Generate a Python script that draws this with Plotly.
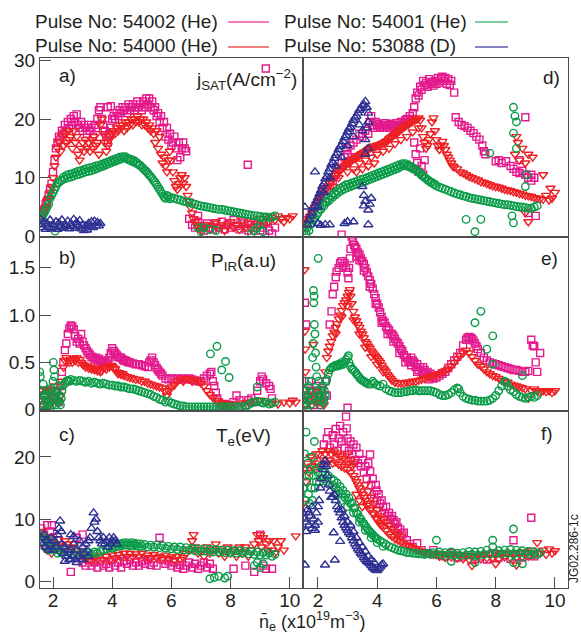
import plotly.graph_objects as go

# ---------------- series definitions ----------------
NAMES = ["Pulse No: 54002 (He)", "Pulse No: 54001 (He)", "Pulse No: 54000 (He)", "Pulse No: 53088 (D)"]
MAG = '#E4198C'; RED = '#EE2024'; GRN = '#0A9B48'; NAV = '#2E3192'

# ---------------- panel a: jSAT (left) ----------------
A_MAG = [(1.6,3.5),(1.65,4),(1.7,4.5),(1.75,5.5),(1.8,6),(1.85,7),(1.9,8),(1.95,9),(2.0,11),(2.05,13),(2.1,15),(2.15,16),(2.2,17),(2.25,16.5),(2.3,18),(2.35,17.5),(2.4,19),(2.45,18),(2.5,19.5),(2.55,18.5),(2.6,20),(2.65,19),(2.7,20.5),(2.75,19.5),(2.8,20.8),(2.85,19),(2.9,18.5),(2.95,19.5),(3.0,18),(3.05,19),(3.1,18.5),(3.15,17.5),(3.2,19),(3.25,18),(3.3,18.5),(3.35,17),(3.4,19),(3.45,18.5),(3.5,20),(3.55,21.5),(3.6,22),(3.65,20),(3.7,19),(3.75,18),(3.8,17),(3.85,16),(3.85,22),(3.9,17.5),(3.95,18.5),(3.95,22.2),(4.0,20),(4.05,20.5),(4.1,20),(4.15,21),(4.2,20.5),(4.25,21.5),(4.3,21),(4.35,22),(4.4,21.5),(4.45,22),(4.5,21),(4.55,22.5),(4.6,21.5),(4.65,22),(4.7,22.5),(4.75,21.5),(4.8,22),(4.85,23),(4.9,22),(4.95,22.5),(5.0,21.5),(5.05,23),(5.1,22),(5.15,23.5),(5.2,22.5),(5.25,23.5),(5.3,22),(5.35,23),(5.4,21.5),(5.45,22),(5.5,20.5),(5.55,21),(5.6,19.5),(5.65,20.5),(5.7,18.5),(5.75,19.5),(5.8,17),(5.85,18.5),(5.9,16.5),(5.95,17.5),(6.0,15.5),(6.05,16),(6.1,17),(6.15,15),(6.2,13),(6.25,16),(6.3,13.5),(6.35,15),(6.4,16),(6.45,15),(6.5,14.5),(6.6,3),(6.7,2),(6.8,1.5),(6.9,2.5),(6.9,3.5),(7.0,1.5),(7.1,1.8),(7.1,1.0),(7.2,2.2),(7.3,1.5),(7.4,1.2),(7.5,2),(7.6,1.5),(7.7,2.5),(7.8,1.2),(7.9,2),(8.0,1.5),(8.1,2.8),(8.2,1.8),(8.3,1.2),(8.4,2.2),(8.5,1.5),(8.58,12.2),(8.6,1.0),(8.7,2.5),(8.8,1.5),(8.9,2.0),(9.0,1.0),(9.1,1.5),(9.19,28.6),(9.2,2.5),(9.3,1.0),(9.4,0.5),(9.5,1.5)]
A_RED = [(1.6,3.5),(1.65,4),(1.7,4.5),(1.75,5),(1.8,6),(1.85,6.5),(1.9,7.5),(1.95,8.5),(2.0,10),(2.05,12),(2.1,13.5),(2.15,15),(2.2,16),(2.25,14.5),(2.3,17),(2.35,15.5),(2.4,17.5),(2.45,16),(2.5,18),(2.55,16.5),(2.6,17),(2.65,15),(2.7,18),(2.75,16),(2.8,17),(2.85,14),(2.9,13),(2.95,15),(3.0,16),(3.05,14.5),(3.1,16.5),(3.15,15),(3.2,16),(3.25,14.5),(3.3,16.5),(3.35,15),(3.4,17),(3.45,15.5),(3.5,16),(3.55,14),(3.6,19),(3.65,20),(3.7,17.5),(3.75,16),(3.8,14.5),(3.85,15.5),(3.9,16.5),(3.95,17),(4.0,17.5),(4.05,18),(4.1,17.5),(4.15,18.5),(4.2,18),(4.25,19),(4.3,18.5),(4.35,19),(4.4,18),(4.45,19.5),(4.5,18.5),(4.55,19.5),(4.6,19),(4.65,20),(4.7,19),(4.75,20),(4.8,19.5),(4.85,20.5),(4.9,19.5),(4.95,20),(5.0,19),(5.05,20),(5.1,19),(5.15,19.5),(5.2,18.5),(5.25,19),(5.3,18),(5.35,18.5),(5.4,17.5),(5.45,16),(5.5,18),(5.55,15),(5.6,17),(5.65,14),(5.7,12.5),(5.75,13.5),(5.8,12),(5.85,11),(5.9,13),(5.95,14.5),(6.0,13),(6.05,11),(6.1,9.5),(6.15,8.5),(6.2,8),(6.25,9),(6.3,10),(6.35,10.5),(6.4,9),(6.45,10),(6.5,8.5),(6.55,7),(6.6,6),(6.65,5),(6.7,4),(6.75,3),(6.8,2.5),(6.85,2),(6.9,1.5),(7.0,1),(7.1,1.5),(7.2,2),(7.3,1.2),(7.4,1.8),(7.5,2.5),(7.6,1.5),(7.7,2),(7.8,1),(7.9,1.8),(8.0,2.5),(8.1,1.5),(8.2,2),(8.3,1.2),(8.4,2.8),(8.5,1.5),(8.6,2.2),(8.7,1.2),(8.8,2.5),(8.9,1.8),(9.0,3),(9.1,2),(9.2,3.5),(9.3,2.5),(9.4,3.2),(9.5,2.8),(9.6,3.5),(9.7,3),(9.8,2.5),(9.9,3.2),(10.0,3),(10.1,3.5)]
A_GRN = [(1.55,3),(1.6,3.2),(1.65,3.5),(1.7,4),(1.75,4.5),(1.8,5),(1.85,5.5),(1.9,6.5),(1.95,7),(2.0,7.5),(2.05,8),(2.07,0.9),(2.1,8.5),(2.15,9),(2.2,9.2),(2.25,9.5),(2.3,9.6),(2.35,10.1),(2.4,9.8),(2.45,10.4),(2.5,10),(2.55,10.6),(2.6,10.1),(2.65,10.7),(2.7,10.3),(2.75,10.9),(2.8,10.5),(2.85,11.1),(2.9,10.6),(2.95,11.2),(3.0,10.8),(3.05,11.4),(3.1,11),(3.15,11.6),(3.2,11.1),(3.25,11.7),(3.3,11.2),(3.35,11.8),(3.4,11.4),(3.45,12),(3.5,11.6),(3.55,12.1),(3.6,11.8),(3.65,12.3),(3.7,12),(3.75,12.5),(3.8,12.2),(3.85,12.7),(3.9,12.4),(3.95,12.9),(4.0,12.6),(4.05,13.1),(4.1,12.8),(4.15,13.3),(4.2,13),(4.25,13.5),(4.3,13.2),(4.35,13.6),(4.4,13.4),(4.45,13.6),(4.5,13.2),(4.55,13.3),(4.6,12.9),(4.65,13.1),(4.7,12.7),(4.75,12.9),(4.8,12.5),(4.85,12.5),(4.9,12.2),(4.95,12.1),(5.0,11.8),(5.05,11.6),(5.1,11.3),(5.15,11.1),(5.2,10.8),(5.25,10.5),(5.3,10.2),(5.35,9.9),(5.4,9.5),(5.45,9.2),(5.5,8.8),(5.55,8.4),(5.6,8),(5.65,7.6),(5.7,7.2),(5.75,6.8),(5.8,6.5),(5.85,7.0),(5.9,6.8),(5.95,6.4),(6.0,6.6),(6.1,6.5),(6.2,6.3),(6.3,6.2),(6.4,6.0),(6.5,5.9),(6.6,5.8),(6.7,5.6),(6.8,5.5),(6.9,5.3),(6.9,1.5),(7.0,5.2),(7.0,0.8),(7.1,5.1),(7.1,1.5),(7.2,5.0),(7.3,4.9),(7.3,1.2),(7.4,4.8),(7.5,4.7),(7.5,1.0),(7.6,4.6),(7.7,4.6),(7.8,4.5),(7.9,4.4),(8.0,4.3),(8.1,4.2),(8.2,4.1),(8.3,4.0),(8.4,3.9),(8.5,3.8),(8.6,3.7),(8.7,3.6),(8.7,0.5),(8.8,3.5),(8.8,1.0),(8.9,3.5),(8.9,1.5),(9.0,3.4),(9.0,2.0),(9.1,3.3),(9.1,0.8),(9.2,3.3),(9.3,3.2),(9.4,3.3),(9.5,3.5)]
A_NAV = [(1.56,2.9),(1.6,2.0),(1.65,1.5),(1.7,2.5),(1.75,1.2),(1.8,2.2),(1.85,1.5),(1.9,2.8),(1.95,1.3),(2.0,2.0),(2.05,1.5),(2.1,2.5),(2.15,1.2),(2.2,2.3),(2.25,1.6),(2.3,2.8),(2.35,1.4),(2.4,2.0),(2.45,1.7),(2.5,2.6),(2.55,1.3),(2.6,2.2),(2.65,1.8),(2.7,2.9),(2.75,1.4),(2.8,2.4),(2.85,1.7),(2.9,2.7),(2.95,1.3),(3.0,2.0),(3.05,1.0),(3.1,1.8),(3.15,1.1),(3.2,2.2),(3.25,1.6),(3.3,2.5),(3.35,1.5),(3.4,2.6),(3.45,1.8),(3.5,2.4),(3.55,1.8),(3.6,2.2)]

# ---------------- panel d: jSAT (right) ----------------
D_MAG = [(1.55,1.8),(1.6,2.2),(1.7,3.0),(1.8,3.8),(1.9,4.8),(2.0,5.5),(2.1,6.5),(2.2,7.2),(2.3,8.0),(2.4,8.8),(2.5,9.5),(2.6,10.5),(2.7,11.5),(2.8,12.5),(2.8,0.3),(2.9,13.5),(2.95,15.0),(3.0,14.0),(3.0,12.5),(3.1,15.5),(3.15,13.5),(3.2,16.0),(3.3,16.5),(3.4,17.5),(3.5,17.0),(3.6,18.0),(3.7,17.5),(3.75,19.5),(3.8,20.5),(3.85,19.0),(3.9,18.5),(3.95,19.5),(4.0,18.8),(4.05,19.2),(4.1,18.5),(4.15,19.0),(4.2,18.6),(4.25,19.3),(4.3,18.7),(4.35,19.0),(4.4,18.5),(4.45,19.2),(4.5,18.8),(4.55,19.0),(4.6,18.5),(4.65,19.3),(4.7,18.7),(4.75,19.0),(4.8,19.5),(4.85,18.8),(4.9,19.3),(4.95,19.8),(5.0,20.0),(5.05,19.5),(5.1,20.5),(5.15,20.0),(5.2,21.0),(5.25,22.0),(5.25,16.0),(5.3,23.5),(5.3,14.0),(5.3,11.5),(5.35,24.5),(5.35,12.5),(5.4,24.0),(5.4,11.0),(5.45,25.5),(5.45,15.0),(5.5,25.0),(5.5,12.0),(5.55,26.5),(5.55,10.5),(5.6,25.8),(5.6,13.0),(5.65,26.2),(5.7,25.5),(5.75,26.8),(5.8,26.0),(5.85,26.3),(5.9,25.7),(5.95,26.5),(6.0,26.0),(6.05,27.0),(6.1,26.2),(6.15,26.8),(6.2,27.2),(6.25,26.5),(6.3,27.0),(6.35,26.0),(6.4,26.8),(6.45,25.8),(6.5,26.5),(6.6,24.5),(6.65,20.3),(6.75,19.5),(6.85,19.0),(6.95,18.8),(7.05,18.5),(7.15,18.0),(7.25,17.6),(7.35,17.0),(7.45,16.5),(7.55,15.5),(7.6,14.5),(7.65,14.0),(8.0,12.8),(8.1,13.0),(8.2,12.5),(8.35,12.8),(8.5,12.0),(8.6,11.5),(8.7,11.0),(8.8,10.8),(8.8,13.0),(8.9,11.2),(9.0,10.5),(9.0,20.3),(9.1,10.0),(9.1,4.0),(9.2,10.5),(9.2,9.5),(9.3,10.0),(9.35,3.5)]
D_RED = [(1.55,1.5),(1.6,2.0),(1.65,2.5),(1.7,3.0),(1.75,3.5),(1.8,4.0),(1.85,4.6),(1.9,5.0),(1.95,5.5),(2.0,6.0),(2.05,6.3),(2.1,6.8),(2.15,7.2),(2.2,7.5),(2.25,7.9),(2.3,8.2),(2.35,8.6),(2.4,9.0),(2.45,9.4),(2.5,9.8),(2.5,8.5),(2.55,10.0),(2.6,10.4),(2.65,10.7),(2.7,11.0),(2.7,10.0),(2.75,11.2),(2.8,11.5),(2.85,11.8),(2.9,12.0),(2.95,12.2),(3.0,12.5),(3.0,11.0),(3.05,12.6),(3.1,12.8),(3.15,13.0),(3.2,13.2),(3.2,11.5),(3.25,13.3),(3.3,13.5),(3.3,11.0),(3.35,13.6),(3.4,13.8),(3.4,12.5),(3.45,14.0),(3.5,14.1),(3.5,11.5),(3.55,14.3),(3.6,14.4),(3.6,13.0),(3.65,14.6),(3.7,14.8),(3.7,12.0),(3.75,15.0),(3.8,15.2),(3.8,13.5),(3.85,15.0),(3.9,15.4),(3.9,12.5),(3.95,15.3),(4.0,15.5),(4.0,14.0),(4.05,15.6),(4.1,15.5),(4.15,15.8),(4.2,15.9),(4.2,14.5),(4.25,16.0),(4.3,16.2),(4.35,16.3),(4.4,16.6),(4.4,15.0),(4.45,16.8),(4.5,17.0),(4.55,17.2),(4.6,17.4),(4.6,15.8),(4.65,17.5),(4.7,17.8),(4.75,18.0),(4.8,18.2),(4.8,16.5),(4.85,18.4),(4.9,18.6),(4.95,18.8),(5.0,19.0),(5.0,17.0),(5.05,19.1),(5.1,19.3),(5.15,19.5),(5.2,19.6),(5.2,17.8),(5.25,19.8),(5.3,19.9),(5.35,20.0),(5.4,20.2),(5.4,18.5),(5.45,19.8),(5.5,18.5),(5.55,17.0),(5.6,16.0),(5.65,15.0),(5.7,15.5),(5.75,16.5),(5.8,17.5),(5.85,19.5),(5.9,20.2),(5.95,18.0),(6.0,16.5),(6.05,15.5),(6.1,14.8),(6.15,15.5),(6.2,16.2),(6.25,15.5),(6.3,14.8),(6.35,14.0),(6.4,13.5),(6.45,13.0),(6.5,12.5),(6.55,12.0),(6.6,11.8),(6.7,11.5),(6.8,11.0),(6.9,10.8),(7.0,10.5),(7.1,10.2),(7.2,10.0),(7.3,9.8),(7.4,9.6),(7.5,9.3),(7.6,9.2),(7.7,9.0),(7.8,8.8),(7.9,8.6),(8.0,8.5),(8.1,8.4),(8.2,8.2),(8.3,8.0),(8.4,7.9),(8.5,7.8),(8.6,7.6),(8.65,14.0),(8.7,7.5),(8.7,17.0),(8.75,16.0),(8.8,7.3),(8.8,13.0),(8.9,7.2),(8.9,15.0),(9.0,7.0),(9.0,12.5),(9.0,4.0),(9.1,6.9),(9.1,14.0),(9.1,2.5),(9.2,6.8),(9.25,13.5),(9.3,6.6),(9.4,6.5),(9.5,6.4),(9.6,6.3),(9.6,10.5),(9.7,7.0),(9.8,6.2),(9.85,8.2),(9.9,6.5),(10.0,7.5)]
D_GRN = [(1.55,1.0),(1.6,0.5),(1.65,1.5),(1.7,1.0),(1.75,2.0),(1.8,2.2),(1.85,2.8),(1.9,3.2),(1.95,3.6),(2.0,4.0),(2.05,4.6),(2.1,4.6),(2.15,5.3),(2.2,5.2),(2.25,5.9),(2.3,5.8),(2.35,6.5),(2.4,6.2),(2.45,7.0),(2.5,6.7),(2.55,7.4),(2.6,7.1),(2.65,7.8),(2.7,7.5),(2.75,8.2),(2.8,7.8),(2.85,8.5),(2.9,8.1),(2.95,8.8),(3.0,8.3),(3.05,8.9),(3.1,8.5),(3.15,9.1),(3.2,8.7),(3.25,9.3),(3.3,8.9),(3.35,9.5),(3.4,9.1),(3.45,9.7),(3.5,9.2),(3.55,9.8),(3.6,9.4),(3.65,10.0),(3.7,9.6),(3.75,10.2),(3.8,9.8),(3.85,10.4),(3.9,10.0),(3.95,10.6),(4.0,10.2),(4.05,10.8),(4.1,10.4),(4.15,11.0),(4.2,10.6),(4.25,11.2),(4.3,10.8),(4.35,11.4),(4.4,11.0),(4.45,11.6),(4.5,11.2),(4.55,11.8),(4.6,11.4),(4.65,12.0),(4.7,11.6),(4.75,12.2),(4.8,11.9),(4.85,12.4),(4.9,12.1),(4.95,12.4),(5.0,12.0),(5.05,12.2),(5.1,11.8),(5.15,11.9),(5.2,11.5),(5.25,11.6),(5.3,11.3),(5.35,11.2),(5.4,10.9),(5.45,10.8),(5.5,10.4),(5.55,10.3),(5.6,10.0),(5.65,9.9),(5.7,9.6),(5.75,9.5),(5.8,9.2),(5.85,9.2),(5.9,8.9),(5.95,8.9),(6.0,8.6),(6.1,8.4),(6.2,8.2),(6.3,8.0),(6.4,7.8),(6.5,7.6),(6.6,7.4),(6.7,7.2),(6.8,7.1),(6.9,6.9),(7.0,6.8),(7.0,2.9),(7.1,6.6),(7.2,6.5),(7.3,6.4),(7.3,0.8),(7.4,6.3),(7.5,6.2),(7.5,2.9),(7.6,6.1),(7.7,6.0),(7.8,5.9),(7.8,14.2),(7.9,5.8),(8.0,5.7),(8.1,5.6),(8.2,5.5),(8.3,5.4),(8.4,5.4),(8.5,5.3),(8.55,3.5),(8.6,5.2),(8.6,22.0),(8.6,17.6),(8.6,2.3),(8.65,20.5),(8.7,5.1),(8.7,19.5),(8.7,15.0),(8.8,5.0),(8.9,5.0),(9.0,4.9),(9.0,8.5),(9.05,10.5),(9.1,4.8),(9.2,4.8),(9.3,5.0),(9.4,5.2)]
D_NAV = [(1.56,5.0),(1.65,2.0),(1.7,2.8),(1.75,3.5),(1.8,4.0),(1.85,4.8),(1.9,5.2),(1.9,11.0),(1.95,6.0),(2.0,6.5),(2.0,5.0),(2.0,2.2),(2.05,7.2),(2.1,7.8),(2.1,1.9),(2.15,8.5),(2.2,9.0),(2.2,7.5),(2.25,9.8),(2.25,2.0),(2.3,10.2),(2.35,11.0),(2.4,11.5),(2.4,10.0),(2.4,2.0),(2.45,12.2),(2.5,12.6),(2.55,13.3),(2.6,13.8),(2.6,12.0),(2.65,14.2),(2.7,14.8),(2.75,15.3),(2.8,15.6),(2.8,13.5),(2.85,16.2),(2.9,16.8),(2.9,2.2),(2.95,17.2),(3.0,17.8),(3.0,15.5),(3.0,2.5),(3.05,18.3),(3.1,18.6),(3.15,19.2),(3.2,19.8),(3.2,17.0),(3.2,2.5),(3.25,20.2),(3.3,20.5),(3.35,21.0),(3.4,21.5),(3.4,19.0),(3.45,21.8),(3.5,22.3),(3.5,18.0),(3.5,8.5),(3.55,22.5),(3.55,7.0),(3.55,5.2),(3.6,23.0),(3.6,16.5),(3.6,14.0),(3.6,6.0),(3.65,22.0),(3.65,18.5),(3.7,21.0),(3.7,19.5),(3.7,15.0),(3.7,4.5),(3.7,2.0),(3.75,5.5),(3.8,6.5)]

# ---------------- panel b: P_IR (left) ----------------
B_MAG = [(1.6,0.1),(1.7,0.15),(1.8,0.05),(1.9,0.2),(2.0,0.12),(2.1,0.18),(2.2,0.08),(2.25,0.25),(2.3,0.4),(2.35,0.5),(2.4,0.63),(2.45,0.7),(2.5,0.8),(2.55,0.86),(2.6,0.89),(2.65,0.88),(2.7,0.85),(2.75,0.78),(2.8,0.72),(2.85,0.75),(2.9,0.7),(2.95,0.8),(3.0,0.72),(3.05,0.68),(3.1,0.65),(3.15,0.62),(3.2,0.6),(3.25,0.58),(3.3,0.56),(3.35,0.55),(3.4,0.53),(3.45,0.55),(3.5,0.52),(3.55,0.54),(3.6,0.52),(3.65,0.5),(3.7,0.5),(3.75,0.51),(3.8,0.5),(3.85,0.52),(3.9,0.55),(3.95,0.6),(4.0,0.65),(4.05,0.62),(4.1,0.6),(4.15,0.58),(4.2,0.56),(4.25,0.55),(4.3,0.55),(4.35,0.53),(4.4,0.52),(4.45,0.52),(4.5,0.51),(4.55,0.5),(4.6,0.5),(4.7,0.49),(4.8,0.48),(4.9,0.48),(5.0,0.47),(5.1,0.46),(5.2,0.45),(5.25,0.5),(5.3,0.52),(5.35,0.55),(5.4,0.5),(5.45,0.47),(5.5,0.44),(5.55,0.42),(5.6,0.4),(5.65,0.38),(5.7,0.36),(5.8,0.33),(5.9,0.32),(6.0,0.33),(6.1,0.32),(6.2,0.33),(6.3,0.32),(6.4,0.33),(6.5,0.32),(6.6,0.33),(6.7,0.32),(6.8,0.31),(6.9,0.3),(7.0,0.3),(7.1,0.33),(7.2,0.36),(7.3,0.38),(7.35,0.4),(7.4,0.3),(7.45,0.25),(7.5,0.18),(7.55,0.12),(7.6,0.08),(7.7,0.05),(7.8,0.06),(7.9,0.04),(8.0,0.05),(8.1,0.08),(8.2,0.15),(8.3,0.1),(8.5,0.05),(8.6,0.1),(8.7,0.12),(8.8,0.08),(8.9,0.2),(9.0,0.3),(9.05,0.35),(9.1,0.32),(9.2,0.28),(9.3,0.25),(9.35,0.22),(9.4,0.12)]
B_RED = [(1.55,0.1),(1.6,0.2),(1.65,0.05),(1.7,0.15),(1.75,0.22),(1.8,0.1),(1.85,0.18),(1.9,0.05),(1.95,0.2),(2.0,0.12),(2.05,0.25),(2.1,0.1),(2.15,0.2),(2.2,0.08),(2.25,0.15),(2.3,0.3),(2.35,0.45),(2.4,0.52),(2.45,0.55),(2.5,0.52),(2.55,0.5),(2.6,0.53),(2.65,0.5),(2.7,0.54),(2.75,0.52),(2.8,0.55),(2.85,0.5),(2.9,0.53),(2.95,0.5),(3.0,0.48),(3.05,0.47),(3.1,0.45),(3.15,0.46),(3.2,0.44),(3.25,0.45),(3.3,0.43),(3.35,0.44),(3.4,0.42),(3.45,0.43),(3.5,0.41),(3.55,0.42),(3.6,0.4),(3.65,0.41),(3.7,0.44),(3.75,0.45),(3.8,0.43),(3.85,0.46),(3.9,0.45),(3.95,0.47),(4.0,0.46),(4.05,0.44),(4.1,0.43),(4.15,0.4),(4.2,0.38),(4.25,0.39),(4.3,0.37),(4.35,0.38),(4.4,0.36),(4.5,0.35),(4.6,0.34),(4.7,0.33),(4.8,0.32),(4.9,0.32),(5.0,0.3),(5.1,0.3),(5.2,0.28),(5.3,0.27),(5.4,0.26),(5.5,0.25),(5.6,0.24),(5.7,0.23),(5.8,0.2),(5.85,0.15),(5.9,0.2),(5.95,0.22),(6.0,0.24),(6.1,0.26),(6.2,0.3),(6.3,0.32),(6.4,0.3),(6.5,0.33),(6.6,0.32),(6.7,0.3),(6.8,0.32),(6.9,0.3),(7.0,0.28),(7.1,0.25),(7.2,0.2),(7.3,0.16),(7.4,0.13),(7.5,0.1),(7.6,0.08),(7.7,0.07),(7.8,0.06),(7.9,0.05),(8.0,0.06),(8.2,0.05),(8.4,0.07),(8.6,0.08),(8.8,0.09),(9.0,0.1),(9.2,0.08),(9.4,0.07),(9.6,0.06),(9.8,0.08),(10.0,0.07),(10.1,0.1),(10.2,0.08)]
B_GRN = [(1.55,0.4),(1.57,0.35),(1.6,0.1),(1.62,0.2),(1.65,0.05),(1.67,0.27),(1.7,0.15),(1.72,0.0),(1.75,0.1),(1.77,0.2),(1.8,0.05),(1.82,0.15),(1.85,0.08),(1.87,0.22),(1.9,0.02),(1.92,0.12),(1.95,0.18),(1.97,0.05),(2.0,0.3),(2.01,0.5),(2.03,0.42),(2.05,0.35),(2.07,0.15),(2.1,0.05),(2.12,0.2),(2.15,0.1),(2.17,0.25),(2.2,0.08),(2.22,0.15),(2.25,0.05),(2.28,0.12),(2.3,0.2),(2.35,0.26),(2.4,0.28),(2.45,0.3),(2.5,0.31),(2.55,0.3),(2.6,0.32),(2.7,0.31),(2.8,0.3),(2.9,0.31),(3.0,0.3),(3.1,0.29),(3.2,0.3),(3.3,0.28),(3.4,0.29),(3.5,0.28),(3.6,0.27),(3.7,0.28),(3.8,0.27),(3.9,0.26),(4.0,0.26),(4.1,0.25),(4.2,0.25),(4.3,0.24),(4.4,0.24),(4.5,0.23),(4.6,0.22),(4.7,0.22),(4.8,0.21),(4.9,0.2),(5.0,0.19),(5.1,0.18),(5.2,0.17),(5.3,0.16),(5.4,0.14),(5.5,0.13),(5.6,0.11),(5.7,0.1),(5.8,0.08),(5.9,0.09),(6.0,0.07),(6.1,0.06),(6.2,0.05),(6.3,0.04),(6.4,0.04),(6.5,0.03),(6.6,0.03),(6.7,0.03),(6.8,0.03),(6.9,0.03),(7.0,0.03),(7.1,0.03),(7.2,0.03),(7.3,0.03),(7.32,0.59),(7.4,0.03),(7.5,0.03),(7.54,0.67),(7.6,0.03),(7.7,0.03),(7.7,0.42),(7.8,0.03),(7.83,0.51),(7.9,0.03),(7.95,0.34),(8.0,0.03),(8.1,0.03),(8.2,0.03),(8.3,0.03),(8.4,0.03),(8.5,0.03),(8.6,0.05),(8.7,0.07),(8.8,0.08),(8.9,0.09),(8.9,0.24),(9.0,0.08),(9.1,0.07),(9.2,0.08),(9.3,0.06),(9.4,0.07),(9.5,0.08)]

# ---------------- panel e: P_IR (right) ----------------
E_MAG = [(1.55,0.2),(1.56,1.13),(1.6,0.9),(1.6,0.05),(1.65,0.15),(1.7,0.3),(1.75,0.1),(1.8,0.2),(1.85,0.05),(1.9,0.12),(1.95,0.25),(2.0,0.08),(2.05,0.15),(2.1,0.05),(2.15,0.2),(2.2,0.1),(2.25,0.3),(2.3,0.15),(2.4,0.9),(2.46,1.04),(2.5,1.22),(2.55,1.3),(2.6,1.4),(2.63,1.46),(2.7,1.5),(2.75,1.55),(2.8,1.57),(2.85,1.52),(2.9,1.55),(2.95,1.5),(3.0,1.45),(3.0,0.02),(3.03,1.39),(3.05,1.5),(3.08,1.6),(3.1,1.7),(3.14,1.83),(3.18,1.78),(3.22,1.74),(3.26,1.72),(3.3,1.7),(3.3,1.62),(3.35,1.66),(3.4,1.64),(3.4,1.58),(3.45,1.6),(3.5,1.57),(3.55,1.54),(3.55,1.47),(3.6,1.5),(3.65,1.45),(3.7,1.41),(3.75,1.37),(3.75,1.3),(3.8,1.33),(3.85,1.28),(3.9,1.22),(3.95,1.18),(3.95,1.12),(4.0,1.12),(4.05,1.08),(4.1,1.03),(4.15,0.98),(4.15,0.92),(4.2,0.94),(4.25,0.92),(4.3,0.88),(4.35,0.86),(4.35,0.8),(4.4,0.84),(4.45,0.8),(4.5,0.8),(4.55,0.78),(4.55,0.72),(4.6,0.75),(4.65,0.72),(4.7,0.7),(4.75,0.67),(4.75,0.6),(4.8,0.64),(4.85,0.62),(4.9,0.58),(4.95,0.55),(4.95,0.5),(5.0,0.55),(5.05,0.52),(5.1,0.5),(5.15,0.55),(5.15,0.47),(5.2,0.52),(5.25,0.5),(5.3,0.45),(5.35,0.48),(5.35,0.4),(5.4,0.42),(5.45,0.45),(5.5,0.4),(5.55,0.45),(5.55,0.38),(5.6,0.42),(5.65,0.38),(5.7,0.4),(5.75,0.36),(5.75,0.32),(5.8,0.38),(5.85,0.35),(5.9,0.33),(6.0,0.34),(6.1,0.36),(6.2,0.38),(6.3,0.4),(6.4,0.44),(6.5,0.48),(6.6,0.52),(6.7,0.56),(6.8,0.6),(6.9,0.68),(7.0,0.74),(7.05,0.76),(7.1,0.77),(7.15,0.76),(7.2,0.75),(7.25,0.73),(7.3,0.7),(7.35,0.67),(7.4,0.64),(7.5,0.6),(7.6,0.55),(7.7,0.52),(7.8,0.5),(7.9,0.49),(8.0,0.48),(8.1,0.47),(8.2,0.46),(8.3,0.45),(8.4,0.44),(8.5,0.43),(8.6,0.42),(8.7,0.42),(8.8,0.41),(8.9,0.4),(9.0,0.4),(9.1,0.41),(9.2,0.74),(9.25,0.68),(9.3,0.67),(9.35,0.5),(9.4,0.4),(9.5,0.6)]
E_RED = [(1.5,0.1),(1.55,1.48),(1.56,0.83),(1.57,0.64),(1.58,0.4),(1.6,0.05),(1.65,0.15),(1.7,0.1),(1.75,0.2),(1.8,0.05),(1.85,0.69),(1.9,0.12),(1.95,0.2),(2.0,0.08),(2.05,0.15),(2.1,0.1),(2.15,0.22),(2.2,0.05),(2.25,0.4),(2.3,0.55),(2.35,0.62),(2.4,0.67),(2.45,0.72),(2.5,0.78),(2.55,0.82),(2.6,0.87),(2.6,0.8),(2.65,0.91),(2.7,0.96),(2.75,1.0),(2.8,1.05),(2.8,0.98),(2.85,1.1),(2.9,1.13),(2.95,1.16),(3.0,1.2),(3.0,1.1),(3.05,1.24),(3.08,1.27),(3.1,1.2),(3.14,1.12),(3.2,1.04),(3.2,0.95),(3.25,0.98),(3.3,0.94),(3.35,0.9),(3.4,0.87),(3.4,0.8),(3.45,0.83),(3.5,0.8),(3.55,0.76),(3.6,0.72),(3.6,0.66),(3.65,0.7),(3.7,0.67),(3.75,0.65),(3.8,0.62),(3.8,0.56),(3.85,0.6),(3.9,0.58),(3.95,0.56),(4.0,0.54),(4.0,0.48),(4.05,0.52),(4.1,0.5),(4.15,0.47),(4.2,0.44),(4.2,0.4),(4.25,0.42),(4.3,0.4),(4.35,0.37),(4.4,0.35),(4.45,0.33),(4.5,0.31),(4.6,0.29),(4.7,0.28),(4.8,0.28),(4.9,0.28),(5.0,0.29),(5.1,0.29),(5.2,0.3),(5.3,0.3),(5.4,0.31),(5.5,0.32),(5.6,0.33),(5.7,0.34),(5.8,0.35),(5.9,0.36),(6.0,0.37),(6.1,0.38),(6.2,0.4),(6.3,0.41),(6.4,0.43),(6.5,0.46),(6.6,0.5),(6.7,0.54),(6.8,0.57),(6.9,0.6),(7.0,0.63),(7.1,0.6),(7.2,0.56),(7.3,0.52),(7.4,0.48),(7.5,0.46),(7.6,0.43),(7.7,0.4),(7.8,0.38),(7.9,0.36),(8.0,0.35),(8.1,0.33),(8.2,0.31),(8.3,0.3),(8.4,0.29),(8.5,0.27),(8.6,0.26),(8.7,0.25),(8.8,0.24),(8.9,0.23),(9.0,0.22),(9.1,0.12),(9.2,0.2),(9.3,0.22),(9.4,0.2),(9.5,0.18),(9.6,0.2),(9.7,0.19),(9.8,0.2),(9.9,0.18),(10.0,0.2)]
E_GRN = [(1.52,0.1),(1.55,0.3),(1.58,0.05),(1.6,0.2),(1.62,0.15),(1.65,0.0),(1.68,0.25),(1.7,0.1),(1.72,0.18),(1.75,0.05),(1.78,0.3),(1.8,0.12),(1.82,0.55),(1.84,0.7),(1.85,1.26),(1.86,1.13),(1.87,1.2),(1.88,0.9),(1.9,0.8),(1.92,0.6),(1.94,0.45),(1.96,0.35),(1.98,0.2),(2.0,0.1),(2.01,1.6),(2.02,0.3),(2.05,0.15),(2.08,0.05),(2.1,0.2),(2.12,0.1),(2.15,0.25),(2.18,0.12),(2.2,0.08),(2.22,0.2),(2.25,0.15),(2.28,0.3),(2.3,0.32),(2.35,0.38),(2.4,0.42),(2.45,0.44),(2.5,0.45),(2.55,0.46),(2.6,0.47),(2.65,0.46),(2.7,0.48),(2.75,0.47),(2.8,0.5),(2.85,0.48),(2.9,0.5),(2.95,0.53),(3.0,0.55),(3.03,0.57),(3.05,0.5),(3.1,0.46),(3.15,0.43),(3.2,0.42),(3.25,0.4),(3.3,0.38),(3.35,0.36),(3.4,0.34),(3.45,0.32),(3.5,0.31),(3.55,0.3),(3.6,0.29),(3.65,0.28),(3.7,0.27),(3.8,0.27),(3.85,0.3),(3.9,0.28),(4.0,0.26),(4.1,0.25),(4.2,0.27),(4.3,0.22),(4.4,0.2),(4.5,0.19),(4.6,0.18),(4.7,0.18),(4.8,0.18),(4.9,0.19),(5.0,0.19),(5.1,0.2),(5.2,0.2),(5.3,0.21),(5.4,0.2),(5.5,0.2),(5.6,0.2),(5.7,0.2),(5.8,0.2),(5.9,0.19),(6.0,0.18),(6.1,0.16),(6.2,0.15),(6.3,0.15),(6.4,0.16),(6.5,0.18),(6.6,0.21),(6.7,0.23),(6.75,0.22),(6.8,0.18),(6.9,0.14),(7.0,0.12),(7.1,0.11),(7.2,0.1),(7.3,0.1),(7.3,0.92),(7.4,0.09),(7.5,0.09),(7.5,1.04),(7.6,0.09),(7.7,0.09),(7.7,0.64),(7.8,0.1),(7.9,0.12),(7.9,0.78),(7.9,0.48),(8.0,0.15),(8.1,0.2),(8.2,0.25),(8.3,0.3),(8.35,0.29),(8.4,0.25),(8.5,0.21),(8.6,0.19),(8.7,0.16),(8.8,0.14),(8.9,0.13),(8.9,0.36),(9.0,0.12),(9.1,0.13),(9.2,0.14),(9.3,0.13),(9.4,0.15)]

# ---------------- panel c: Te (left) ----------------
C_MAG = [(1.6,8.5),(1.7,7.5),(1.8,9.0),(1.9,8.0),(1.96,9.0),(2.0,7.0),(2.2,6.5),(2.6,1.5),(2.8,7.0),(3.0,7.5),(3.0,3.0),(3.1,2.5),(3.2,3.5),(3.3,2.5),(3.4,3.0),(3.5,2.2),(3.6,3.2),(3.7,2.5),(3.8,2.8),(3.9,2.2),(4.0,3.5),(4.1,2.5),(4.2,3.0),(4.3,2.2),(4.4,3.2),(4.5,2.8),(4.6,3.5),(4.7,2.5),(4.8,3.0),(4.9,2.5),(5.0,3.2),(5.1,2.8),(5.2,3.5),(5.3,2.6),(5.4,3.0),(5.5,2.5),(5.6,7.0),(5.7,3.5),(5.8,2.8),(5.9,3.2),(6.0,2.5),(6.1,3.0),(6.2,2.2),(6.3,2.6),(6.4,2.0),(6.5,2.5),(6.6,3.0),(6.7,2.2),(6.8,2.8),(6.9,2.0),(7.0,2.5),(7.1,3.0),(7.2,2.2),(7.3,2.8),(7.4,2.0),(8.1,2.0),(8.5,2.5),(8.8,1.5),(9.0,7.5),(9.1,2.5),(9.2,2.0),(9.4,2.0)]
C_RED = [(1.6,8),(1.65,7),(1.7,5.5),(1.75,6.5),(1.8,5),(1.85,7),(1.9,6),(1.95,4.5),(2.0,6),(2.1,5.5),(2.2,6),(2.3,5),(2.4,6.5),(2.5,6),(2.6,5.5),(2.7,6),(2.8,5),(2.9,4.5),(3.0,4),(3.1,3.5),(3.2,4),(3.3,3.2),(3.4,3.8),(3.5,3.5),(3.6,4.2),(3.7,3.5),(3.8,4),(3.9,3.3),(4.0,4.2),(4.1,3.6),(4.2,4.3),(4.3,3.8),(4.4,4.5),(4.5,4.0),(4.6,4.5),(4.7,3.9),(4.8,4.4),(4.9,4.0),(5.0,4.5),(5.1,3.8),(5.2,4.2),(5.3,3.7),(5.4,4.3),(5.5,3.8),(5.6,4.0),(5.7,3.5),(5.8,4.2),(5.9,3.6),(6.0,3.9),(6.1,3.4),(6.2,4.0),(6.3,3.5),(6.4,3.8),(6.5,4.5),(6.6,5),(6.7,6.5),(6.75,7.5),(6.8,5.5),(6.9,4.5),(7.0,5),(7.1,4),(7.2,5.5),(7.3,4.5),(7.4,5),(7.5,6),(7.6,4.5),(7.7,5),(7.8,4),(7.9,5.5),(8.0,4.5),(8.1,5),(8.2,4),(8.3,5.5),(8.4,4.5),(8.5,5.5),(8.6,4),(8.7,5),(8.8,6),(8.9,7.5),(8.95,6.5),(9.0,7.5),(9.05,5.5),(9.1,7),(9.2,6),(9.25,5),(9.3,6.5),(9.4,5),(9.45,6.5),(9.5,4.5),(9.6,5.5),(9.7,6.5),(9.8,5),(10.2,7.3)]
C_GRN = [(1.6,7.5),(1.65,6.5),(1.7,7),(1.75,5.5),(1.8,6.5),(1.85,5),(1.9,6),(1.95,5.5),(2.0,6.5),(2.05,5),(2.1,5.5),(2.15,4.5),(2.2,5),(2.3,4.5),(2.4,5),(2.5,4.2),(2.6,4.8),(2.7,4.3),(2.8,4.6),(2.9,4.2),(3.0,4.5),(3.1,4.3),(3.2,4.6),(3.3,4.4),(3.4,4.7),(3.5,4.5),(3.6,4.8),(3.7,5.0),(3.8,5.2),(3.9,5.5),(4.0,5.3),(4.05,5.8),(4.1,5.5),(4.15,6.0),(4.2,5.6),(4.25,6.0),(4.3,5.7),(4.35,6.1),(4.4,5.8),(4.45,6.2),(4.5,5.8),(4.55,6.1),(4.6,5.7),(4.65,6.2),(4.7,5.8),(4.75,6.1),(4.8,5.7),(4.85,6.0),(4.9,5.6),(4.95,6.0),(5.0,5.6),(5.1,5.9),(5.2,5.5),(5.3,5.8),(5.4,5.5),(5.5,5.8),(5.6,5.4),(5.7,5.7),(5.8,5.3),(5.9,5.6),(6.0,5.2),(6.1,5.5),(6.2,5.1),(6.3,5.5),(6.4,5.0),(6.5,5.4),(6.6,5.0),(6.7,5.3),(6.8,4.9),(6.9,5.2),(7.0,4.8),(7.1,5.2),(7.2,4.8),(7.3,5.1),(7.3,0.4),(7.4,4.7),(7.45,0.6),(7.5,5.1),(7.6,4.7),(7.6,0.8),(7.7,5.0),(7.8,4.6),(7.8,0.5),(7.9,5.0),(7.9,0.8),(8.0,4.6),(8.1,4.9),(8.2,4.5),(8.3,4.9),(8.4,4.5),(8.5,4.8),(8.6,4.4),(8.7,4.8),(8.8,4.3),(8.8,2.5),(8.9,4.7),(8.9,3.0),(9.0,4.2),(9.0,2.2),(9.1,4.6),(9.1,2.8),(9.2,4.2),(9.3,4.5),(9.4,4.0),(9.5,4.3)]
C_NAV = [(1.6,7),(1.65,6),(1.7,7.5),(1.75,5.5),(1.8,6.5),(1.85,5),(1.9,6),(1.95,7),(2.0,5),(2.05,6.5),(2.1,5.5),(2.15,7.5),(2.2,8.5),(2.24,9.7),(2.28,8),(2.3,6),(2.35,4.5),(2.4,5.5),(2.4,3.2),(2.45,4),(2.5,5),(2.55,3.5),(2.6,5),(2.6,7.5),(2.6,3.5),(2.65,4),(2.7,6),(2.7,7.2),(2.75,3.5),(2.8,5),(2.8,3.0),(2.85,4),(2.9,6.5),(2.95,3.5),(3.0,5.5),(3.0,3.5),(3.05,4.5),(3.1,6),(3.15,5),(3.2,6.5),(3.2,4.0),(3.25,7),(3.3,8.5),(3.37,11),(3.4,9.5),(3.45,10),(3.5,8),(3.55,7),(3.6,6.5),(3.65,6),(3.7,7),(3.75,6),(3.8,6.5),(3.85,5.5),(3.9,7),(3.95,6),(4.0,6.5),(4.05,7),(4.1,6.5),(4.15,6)]

# ---------------- panel f: Te (right) ----------------
F_MAG = [(2.2,22),(2.3,23),(2.35,24),(2.4,21.5),(2.5,23.5),(2.55,22),(2.6,24.5),(2.65,21),(2.7,23),(2.75,25),(2.8,22.5),(2.85,24),(2.9,21.5),(2.95,26.5),(2.97,24.6),(3.0,23),(3.05,21),(3.1,22.5),(3.15,20.5),(3.2,22),(3.25,19.5),(3.3,21.5),(3.35,19),(3.4,20.5),(3.45,18.5),(3.5,19.5),(3.55,17.5),(3.6,18.5),(3.65,16.5),(3.7,19),(3.76,20.4),(3.76,17.7),(3.8,15.5),(3.85,16.5),(3.9,14),(3.95,15.5),(3.98,14.6),(4.0,13),(4.05,14),(4.1,12.5),(4.15,13),(4.2,11.9),(4.25,11),(4.3,12),(4.35,10.5),(4.4,11),(4.45,10),(4.5,10.5),(4.55,9.8),(4.6,9.2),(4.65,9.5),(4.7,8.6),(4.78,8.3),(4.85,7.5),(4.9,7.8),(5.0,6.6),(5.1,6.0),(5.2,5.5),(5.35,6.1),(5.5,5.0),(5.7,4.5),(5.9,5.0),(6.1,4.2),(6.3,4.0),(6.5,4.5),(6.7,3.8),(6.9,4.0),(7.1,4.2),(7.3,3.6),(7.5,4.0),(7.7,3.5),(7.9,4.5),(8.1,3.8),(8.3,4.2),(8.5,3.6),(8.6,6.6),(8.7,4.0),(8.9,3.8),(9.1,4.2),(9.2,10.2),(9.3,4.0)]
F_RED = [(1.5,12.5),(1.55,18),(1.6,16),(1.65,19),(1.7,17.5),(1.75,20),(1.8,18.5),(1.85,19.5),(1.9,18),(1.95,20.5),(2.0,19),(2.05,20.5),(2.1,18.5),(2.15,21),(2.2,19.5),(2.25,20.5),(2.3,19),(2.35,21),(2.4,19.5),(2.45,20.5),(2.5,19),(2.55,20.8),(2.6,19.2),(2.65,20.5),(2.7,18.8),(2.75,20.2),(2.8,18.5),(2.85,19.8),(2.9,18.2),(2.95,19.5),(3.0,18),(3.0,20.5),(3.05,19),(3.1,17.5),(3.1,19.5),(3.15,18.5),(3.2,17),(3.2,19),(3.25,16.5),(3.3,16),(3.3,14),(3.35,15.5),(3.4,15),(3.4,13),(3.45,14.5),(3.5,14),(3.5,12),(3.55,13.5),(3.6,13),(3.6,15.5),(3.65,12.2),(3.7,12.5),(3.7,14.5),(3.75,11.5),(3.8,11.8),(3.8,13.5),(3.85,11),(3.9,10.8),(3.9,12.5),(3.95,10.2),(4.0,10.0),(4.0,11.5),(4.05,9.5),(4.1,9.2),(4.1,10.5),(4.15,9.0),(4.2,8.7),(4.2,10),(4.3,8.2),(4.3,9.5),(4.4,7.6),(4.4,9),(4.5,7.2),(4.5,8.5),(4.6,6.8),(4.6,8),(4.7,6.6),(4.7,7.5),(4.8,6.3),(4.8,7.2),(4.9,6.0),(5.0,5.8),(5.1,5.6),(5.2,5.4),(5.3,5.2),(5.4,5.0),(5.5,4.8),(5.6,4.6),(5.7,4.5),(5.8,4.4),(5.9,4.3),(6.0,4.5),(6.1,4.0),(6.2,4.4),(6.3,3.8),(6.4,4.3),(6.5,3.9),(6.6,4.4),(6.7,3.7),(6.8,4.2),(6.9,3.6),(7.0,4.1),(7.1,3.5),(7.2,4.0),(7.2,2.5),(7.3,3.8),(7.4,4.2),(7.5,3.6),(7.6,4.3),(7.7,3.7),(7.8,4.4),(7.9,3.8),(8.0,4.2),(8.0,2.8),(8.1,3.6),(8.2,4.5),(8.3,3.9),(8.4,4.4),(8.5,3.7),(8.6,4.5),(8.7,3.8),(8.7,2.6),(8.8,4.6),(8.9,3.9),(9.0,4.7),(9.1,4.0),(9.2,5.0),(9.3,4.2),(9.4,6.2),(9.5,4.5),(9.6,5.0),(9.7,4.3),(9.8,5.2),(9.9,4.5),(10.0,4.9)]
F_GRN = [(1.5,15),(1.52,18),(1.55,20.5),(1.58,13),(1.6,24),(1.62,16),(1.65,19),(1.68,14),(1.7,17),(1.72,12.5),(1.75,18),(1.78,15),(1.8,20),(1.82,13),(1.85,17),(1.88,22.5),(1.9,15),(1.92,18),(1.95,16),(2.0,17.5),(2.05,16),(2.1,18.5),(2.15,17),(2.2,16.5),(2.25,17.5),(2.3,16),(2.35,17),(2.4,15.5),(2.45,16.5),(2.5,15.5),(2.55,16.2),(2.6,15),(2.6,14),(2.65,15.8),(2.7,14.5),(2.75,15.2),(2.8,14),(2.8,13),(2.85,14.6),(2.9,13.5),(2.95,14),(3.0,13),(3.0,12),(3.05,13.4),(3.1,12.5),(3.15,12.6),(3.2,11.8),(3.2,11),(3.25,11.8),(3.3,11),(3.35,10.8),(3.4,10.2),(3.4,9.5),(3.45,10),(3.5,9.5),(3.55,9.3),(3.6,8.9),(3.6,8.2),(3.65,8.6),(3.7,8.2),(3.75,8.0),(3.8,7.7),(3.8,7.0),(3.85,7.5),(3.9,7.2),(3.95,7.0),(4.0,6.8),(4.0,6.2),(4.1,6.5),(4.2,6.2),(4.2,5.6),(4.3,5.9),(4.4,5.6),(4.5,5.4),(4.6,5.2),(4.7,5.0),(4.8,4.9),(4.9,4.8),(5.0,4.6),(5.1,4.6),(5.2,4.5),(5.3,4.5),(5.4,4.4),(5.5,4.4),(5.6,4.3),(5.7,4.5),(5.8,4.3),(5.9,4.6),(6.0,4.3),(6.0,6.6),(6.1,4.7),(6.2,4.2),(6.3,4.6),(6.4,4.3),(6.5,4.7),(6.5,3.2),(6.6,4.2),(6.7,4.5),(6.8,4.1),(6.9,4.6),(7.0,4.2),(7.1,4.8),(7.2,4.3),(7.3,4.7),(7.3,3.0),(7.4,4.2),(7.5,4.8),(7.6,4.3),(7.7,5.0),(7.8,4.4),(7.9,5.5),(7.9,6.6),(8.0,4.5),(8.1,4.9),(8.2,4.4),(8.3,5.0),(8.4,4.5),(8.5,5.1),(8.6,4.4),(8.6,8.4),(8.6,3.0),(8.7,5.0),(8.8,4.5),(8.9,4.9),(8.9,2.8),(9.0,4.4),(9.1,4.8),(9.2,4.3),(9.3,4.7),(9.4,4.3),(9.5,4.6)]
F_NAV = [(1.5,11),(1.55,10),(1.56,2.6),(1.6,9.5),(1.6,8),(1.65,11.5),(1.7,9),(1.7,11),(1.75,10.5),(1.8,8.5),(1.8,12),(1.85,10),(1.9,9),(1.9,8.2),(1.95,11),(2.0,12),(2.0,9.5),(2.04,13),(2.08,15),(2.12,16.5),(2.16,18),(2.2,18.8),(2.24,19.4),(2.24,2.6),(2.28,18.5),(2.32,17),(2.36,15.5),(2.4,14.5),(2.45,13.5),(2.5,13.5),(2.53,7.8),(2.55,14),(2.57,3.4),(2.6,13),(2.65,12),(2.7,11.5),(2.75,11),(2.75,6.4),(2.8,10.2),(2.8,11.5),(2.85,9.5),(2.9,9),(2.9,10.5),(2.95,8.6),(3.0,8.2),(3.0,9.5),(3.05,7.8),(3.1,7.5),(3.1,9),(3.15,7.0),(3.2,6.5),(3.2,8),(3.25,6.0),(3.3,5.6),(3.3,7),(3.35,5.2),(3.4,4.9),(3.4,6.2),(3.45,4.5),(3.5,4.2),(3.5,5.5),(3.55,3.8),(3.6,3.5),(3.6,4.8),(3.65,3.2),(3.7,3.0),(3.7,4.0),(3.75,2.8),(3.8,2.5),(3.8,3.5),(3.85,2.2),(3.9,2.0),(3.9,3.0),(3.95,1.8),(4.0,1.7),(4.05,2.0),(4.1,2.3),(4.15,2.6),(4.2,2.8)]

# ---------------- layout geometry ----------------
W, H = 581, 636
XL = [40 / W, 302.5 / W]; XR = [302.5 / W, 568 / W]
ROW = [[1 - 237 / H, 1 - 58 / H], [1 - 411 / H, 1 - 237 / H], [1 - 588 / H, 1 - 411 / H]]
XRANGE_L = [1.56, 10.43]; XRANGE_R = [1.48, 10.44]
YRANGES = [[-0.1, 30.4], [-0.014, 1.826], [-1.1, 27.4]]
YTICKS = [([0, 10, 20, 30], ['0', '10', '20', '30']),
          ([0, 0.5, 1.0, 1.5], ['0', '0.5', '1.0', '1.5']),
          ([0, 10, 20], ['0', '10', '20'])]
XTICKS = [2, 4, 6, 8, 10]

FONT = "Arial"
TXT = '#231F20'
FRAME = '#4D4D4F'

PANELS = [  # (row, col, [series lists in draw order])
    (0, 0, [A_MAG, A_RED, A_GRN, A_NAV]),
    (0, 1, [D_MAG, D_RED, D_GRN, D_NAV]),
    (1, 0, [B_MAG, B_RED, B_GRN, None]),
    (1, 1, [E_MAG, E_RED, E_GRN, None]),
    (2, 0, [C_MAG, C_RED, C_GRN, C_NAV]),
    (2, 1, [F_MAG, F_RED, F_GRN, F_NAV]),
]
STYLE = [(MAG, 'square-open', 7), (RED, 'triangle-down-open', 8), (GRN, 'circle-open', 7.5), (NAV, 'triangle-up-open', 8)]

fig = go.Figure()
layout = {}
for i, (r, c, series) in enumerate(PANELS):
    n = i + 1
    xa = 'xaxis' if n == 1 else f'xaxis{n}'
    ya = 'yaxis' if n == 1 else f'yaxis{n}'
    xref = 'x' if n == 1 else f'x{n}'
    yref = 'y' if n == 1 else f'y{n}'
    for s, (col, sym, size) in zip(series, STYLE):
        if s is None:
            continue
        fig.add_trace(go.Scatter(
            x=[p[0] for p in s], y=[p[1] for p in s], mode='markers',
            xaxis=xref, yaxis=yref, showlegend=False, hoverinfo='skip',
            marker=dict(symbol=sym, size=size, color=col, line=dict(color=col, width=1.4))))
    bottom = (r == 2)
    xd = dict(domain=XL if c == 0 else XR, anchor=yref,
              range=XRANGE_L if c == 0 else XRANGE_R, automargin=False,
              showline=True, mirror=True, linecolor=FRAME, linewidth=1,
              showgrid=False, zeroline=False, ticklen=11, tickcolor=FRAME,
              tickfont=dict(family=FONT, size=19, color=TXT))
    if bottom:
        xd.update(tickvals=XTICKS, ticktext=[str(t) for t in XTICKS], ticks='inside',
                  showticklabels=True, ticklabelstandoff=-5)
    else:
        xd.update(showticklabels=False, ticks='')
    layout[xa] = xd
    tv, tt = YTICKS[r]
    yd = dict(domain=ROW[r], anchor=xref, range=YRANGES[r], automargin=False,
              showline=True, mirror=True, linecolor=FRAME, linewidth=1,
              showgrid=False, zeroline=False, ticklen=11, tickcolor=FRAME,
              tickfont=dict(family=FONT, size=19, color=TXT))
    if c == 0:
        yd.update(tickvals=tv, ticktext=tt, ticks='inside', showticklabels=True)
    else:
        yd.update(showticklabels=False, ticks='')
    layout[ya] = yd

ann = []
def txt(px, py, s, size=19, xanchor='left', yanchor='middle', angle=0):
    ann.append(dict(x=px / W, y=1 - py / H, xref='paper', yref='paper', text=s, showarrow=False,
                    xanchor=xanchor, yanchor=yanchor, textangle=angle,
                    font=dict(family=FONT, size=size, color=TXT)))

# panel labels
txt(57, 75, 'a)'); txt(57, 257, 'b)'); txt(57, 434, 'c)')
txt(562, 78, 'd)', xanchor='right'); txt(560, 258, 'e)', xanchor='right'); txt(555, 433, 'f)', xanchor='right')
txt(299, 80, 'j<sub>SAT</sub>(A/cm<sup>−2</sup>)', xanchor='right')
txt(278, 262, 'P<sub>IR</sub>(a.u)', xanchor='right')
txt(273, 437, 'T<sub>e</sub>(eV)', xanchor='right')
# axis title
txt(312, 636, 'n\u0304<sub>e</sub> (x10<sup>19</sup>m<sup>−3</sup>)', size=18, xanchor='center', yanchor='bottom')
# figure code
txt(574, 549, 'JG02.286-1c', size=12, xanchor='center', angle=-90)

# legend (text followed by a line sample)
LEG = [(33, 21, NAMES[0], 228, 269, '#F07CBE'), (282, 21, NAMES[1], 475, 508, '#7DCFA0'),
       (33, 46, NAMES[2], 228, 269, '#F27E7E'), (282, 46, NAMES[3], 475, 508, '#8484C2')]
shapes = []
for (tx, ty, name, l0, l1, lc) in LEG:
    txt(tx, ty, name)
    shapes.append(dict(type='line', xref='paper', yref='paper', x0=l0 / W, x1=l1 / W,
                       y0=1 - (ty + 1) / H, y1=1 - (ty + 1) / H, line=dict(color=lc, width=2)))

fig.update_layout(**layout)
fig.update_layout(template='none', width=W, height=H, margin=dict(l=0, r=0, t=0, b=0, pad=0),
                  paper_bgcolor='white', plot_bgcolor='white',
                  annotations=ann, shapes=shapes, showlegend=False,
                  font=dict(family=FONT, color=TXT))
fig.write_html("out.html")
